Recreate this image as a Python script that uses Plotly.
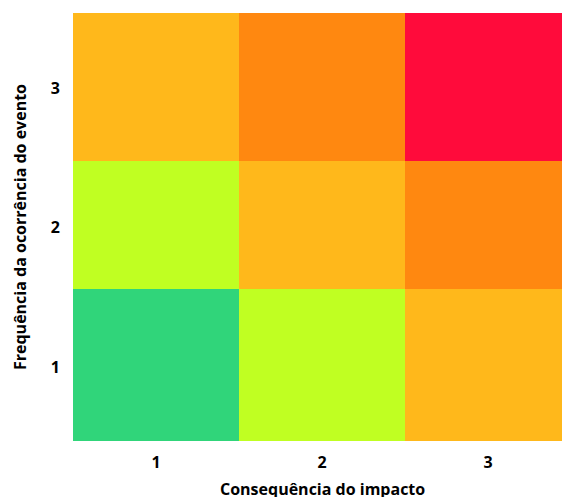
import plotly.graph_objects as go

# consequence (x) and frequency (y) levels
impacto = [1, 2, 3]
frequencia = [1, 2, 3]
x_bordas = [0.5, 1.5, 2.5, 3.5]
y_bordas = [0.47, 1.56, 2.48, 3.54]

# risk level per cell, rows = frequency 1..3
risco = [
    [1, 2, 3],
    [2, 3, 4],
    [3, 4, 5],
]

cores = ["#30D57A", "#C0FF22", "#FFB81B", "#FF8810", "#FF0B3B"]

escala = []
for i, c in enumerate(cores):
    escala.append([i / len(cores), c])
    escala.append([(i + 1) / len(cores), c])

fig = go.Figure(go.Heatmap(
    x=x_bordas,
    y=y_bordas,
    z=risco,
    zmin=0.5,
    zmax=5.5,
    colorscale=escala,
    showscale=False,
    hoverinfo="skip",
))

fonte = dict(family="Open Sans", size=16, color="black")

fig.update_layout(
    width=562,
    height=497,
    margin=dict(l=73, r=0, t=13, b=56),
    plot_bgcolor="white",
    paper_bgcolor="white",
    font=fonte,
    xaxis=dict(
        range=[0.5, 0.5 + 489 / 166],
        tickvals=impacto,
        ticktext=["<b>%d</b>" % v for v in impacto],
        ticks="outside", ticklen=7, tickcolor="rgba(0,0,0,0)",
        showgrid=False, zeroline=False, showline=False,
    ),
    yaxis=dict(
        range=[0.47, 3.54],
        tickvals=frequencia,
        ticktext=["<b>%d</b>" % v for v in frequencia],
        ticks="outside", ticklen=9, tickcolor="rgba(0,0,0,0)",
        showgrid=False, zeroline=False, showline=False,
    ),
    annotations=[
        dict(text="<b>Consequência do impacto</b>", xref="paper", yref="paper",
             x=0.511, y=0, yshift=-48, showarrow=False,
             xanchor="center", yanchor="middle", font=dict(size=16)),
        dict(text="<b>Frequência da ocorrência do evento</b>", xref="paper", yref="paper",
             x=0, y=0.5, xshift=-53, textangle=-90, showarrow=False,
             xanchor="center", yanchor="middle", font=dict(size=16)),
    ],
)

# drop the default 8px page margin so the figure fills the window
fig.write_html("out.html", config={"displayModeBar": False},
               post_script="document.body.style.margin='0';document.body.style.overflow='hidden';")
